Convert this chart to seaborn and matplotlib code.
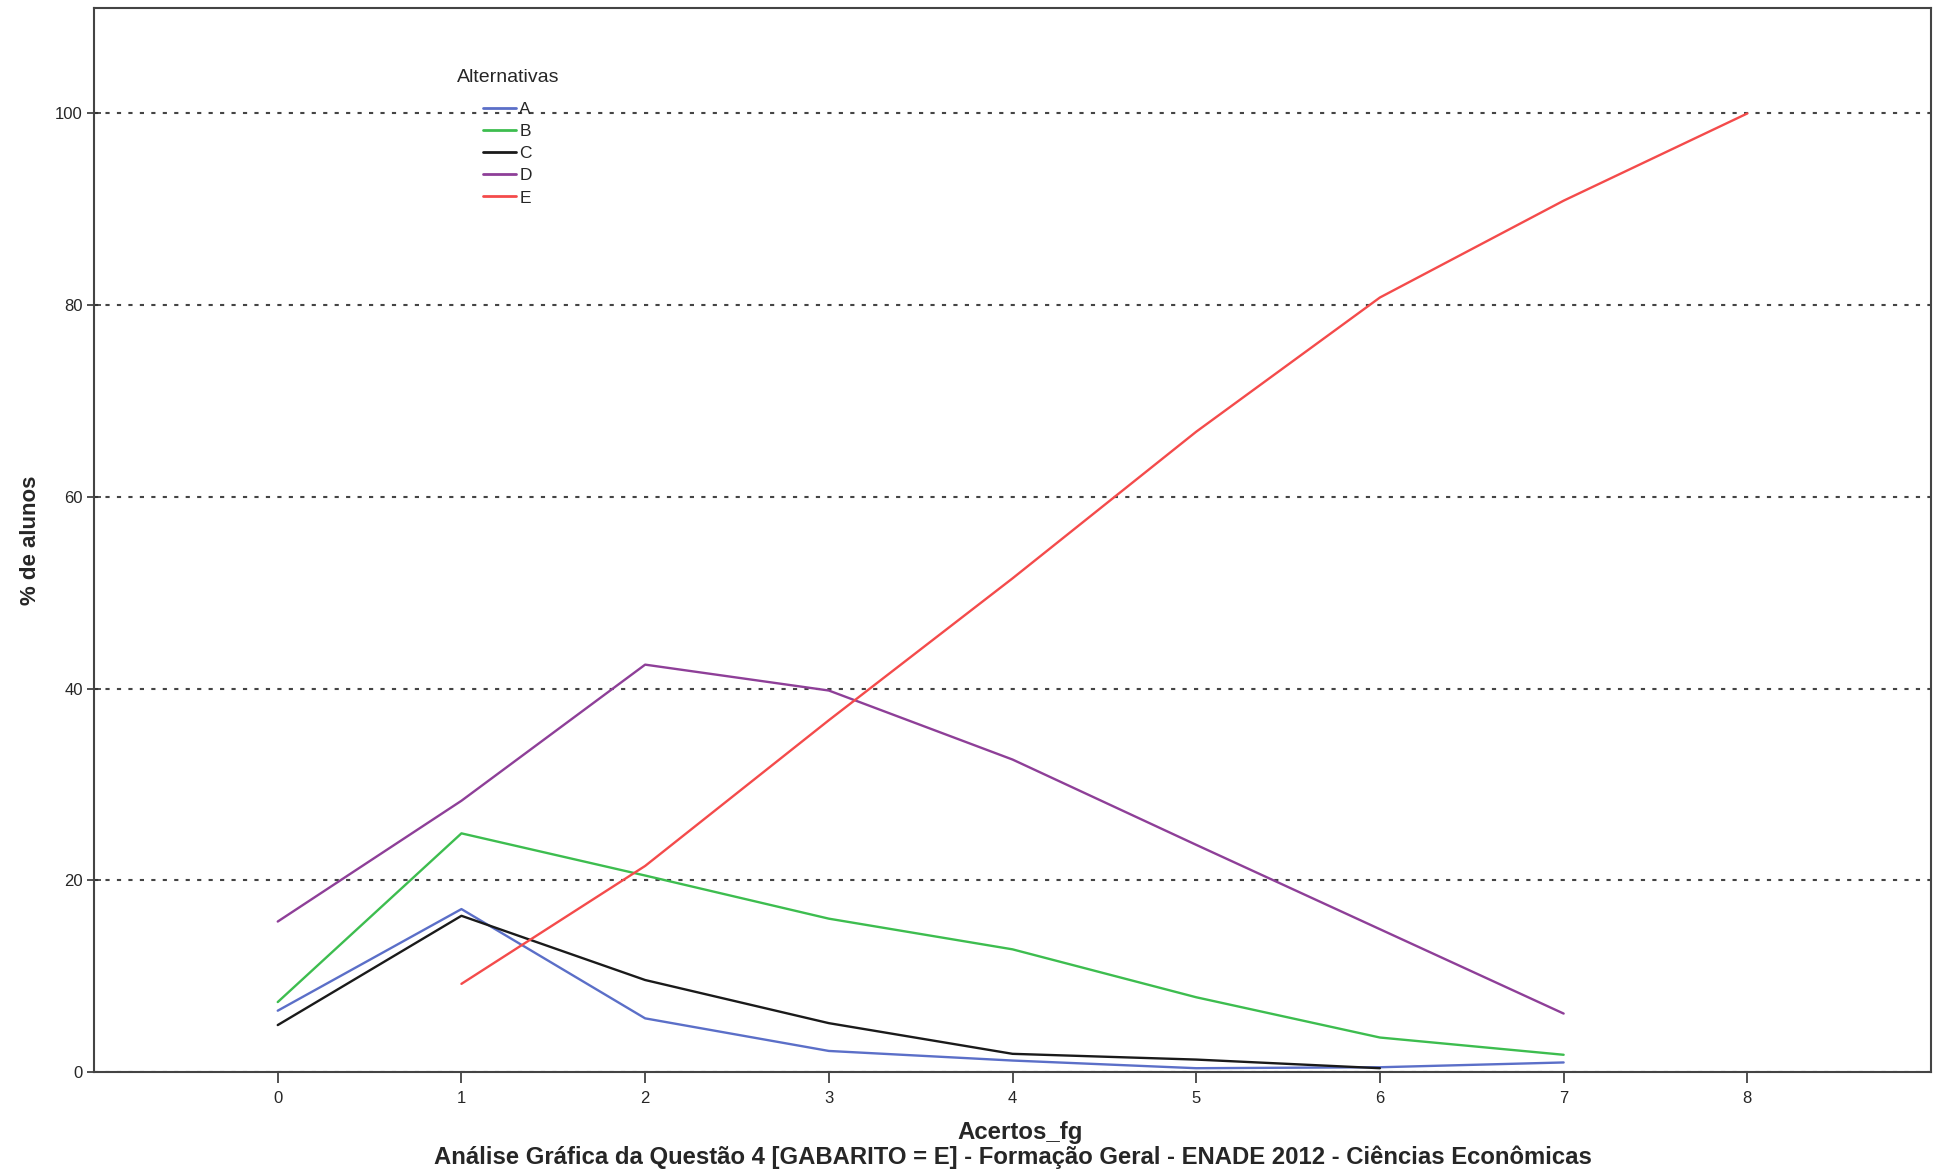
import pandas as pd
import matplotlib
matplotlib.use('Agg')
import matplotlib.pyplot as plt
import seaborn as sns

# values (% of students per number of hits)
acertos = [0, 1, 2, 3, 4, 5, 6, 7, 8]
alt_a = [6.4, 17.0, 5.6, 2.2, 1.2, 0.4, 0.5, 1.0]
alt_b = [7.3, 24.9, 20.5, 16.0, 12.8, 7.8, 3.6, 1.8]
alt_c = [4.9, 16.3, 9.6, 5.1, 1.9, 1.3, 0.4]
alt_d = [15.7, 28.3, 42.5, 39.8, 32.6, 23.7, 14.9, 6.1]
alt_e_x = [1, 2, 3, 4, 5, 6, 7, 8]
alt_e = [9.2, 21.5, 36.7, 51.5, 66.8, 80.8, 90.9, 100.0]

colors = {'A': '#5b6fc8', 'B': '#3dbd4f', 'C': '#1a1a1a', 'D': '#8e3f98', 'E': '#f44b4b'}

rows = []
for name, xs, ys in [('A', acertos, alt_a), ('B', acertos, alt_b), ('C', acertos, alt_c),
                     ('D', acertos, alt_d), ('E', alt_e_x, alt_e)]:
    for x, y in zip(xs, ys):
        rows.append({'Acertos_fg': x, 'pct': y, 'Alternativas': name})
df = pd.DataFrame(rows)

sns.set_theme(style='white')
plt.rcParams['font.family'] = ['Liberation Sans', 'DejaVu Sans']

fig = plt.figure(figsize=(19.47, 11.76), dpi=100)
ax = fig.add_axes([0.0483, 0.0884, 0.9435, 0.9048])

sns.lineplot(data=df, x='Acertos_fg', y='pct', hue='Alternativas', palette=colors,
             hue_order=['A', 'B', 'C', 'D', 'E'], errorbar=None, linewidth=1.7, ax=ax)

ax.set_xlim(-1, 9)
ax.set_ylim(0, 111)
ax.set_xticks(acertos)
ax.set_yticks([0, 20, 40, 60, 80, 100])
for yv in [0, 20, 40, 60, 80, 100]:
    ax.axhline(yv, color='#444444', linestyle=(0, (2, 3.5)), linewidth=1.5, zorder=0)

ax.tick_params(axis='both', which='both', length=8, width=1.2,
               color='#333333', labelsize=12, bottom=True, left=True, pad=3)
ax.tick_params(axis='x', direction='out', pad=6)
ax.tick_params(axis='y', direction='inout', length=10)
for sp in ax.spines.values():
    sp.set_color('#444444')
    sp.set_linewidth(1.5)

ax.set_xlabel('')
ax.set_ylabel('% de alunos', fontsize=16, fontweight='bold', labelpad=10)
fig.text(0.524, 1 - 1132 / 1176, 'Acertos_fg', ha='center', va='center',
         fontsize=17.3, fontweight='bold')
fig.text(0.520, 1 - 1157 / 1176,
         'Análise Gráfica da Questão 4 [GABARITO = E] - Formação Geral - ENADE 2012 - Ciências Econômicas',
         ha='center', va='center', fontsize=17.2, fontweight='bold')

leg = ax.legend(loc='upper left', frameon=False,
                bbox_to_anchor=(483 / 1947, 1 - 102 / 1176), bbox_transform=fig.transFigure,
                fontsize=12.5, handlelength=1.9, handletextpad=0.2,
                labelspacing=0.4, borderpad=0, borderaxespad=0)
for line in leg.get_lines():
    line.set_linewidth(2)
fig.text(508 / 1947, 1 - 78 / 1176, 'Alternativas', ha='center', va='center', fontsize=14)

fig.savefig('out.png', dpi=100)
